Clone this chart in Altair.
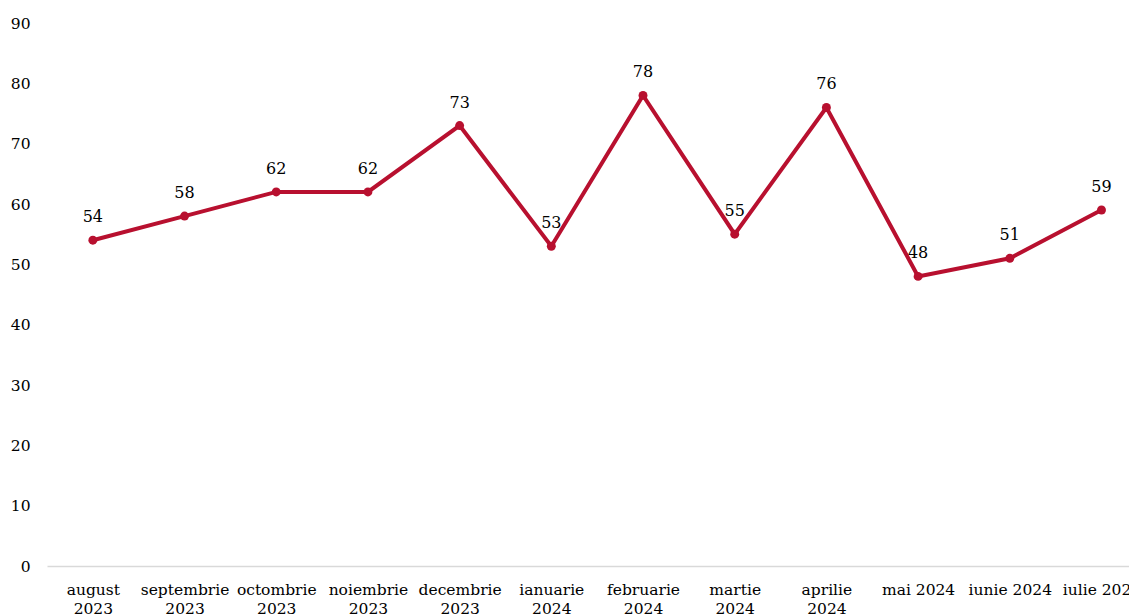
import altair as alt
import pandas as pd

months = ["august 2023", "septembrie 2023", "octombrie 2023", "noiembrie 2023",
          "decembrie 2023", "ianuarie 2024", "februarie 2024", "martie 2024",
          "aprilie 2024", "mai 2024", "iunie 2024", "iulie 2024"]
values = [54, 58, 62, 62, 73, 53, 78, 55, 76, 48, 51, 59]

df = pd.DataFrame({"idx": list(range(len(months))), "luna": months, "valoare": values})

FONT = "DejaVu Serif"
RED = "#b8102f"

month_arr = "[" + ",".join("'" + m + "'" for m in months) + "]"
label_expr = ("length({a}[datum.value]) > 10 ? split({a}[datum.value], ' ') : {a}[datum.value]"
              .format(a=month_arr))

x = alt.X("idx:Q", title=None,
          scale=alt.Scale(domain=[-0.5, 11.3], nice=False, zero=False),
          axis=alt.Axis(values=list(range(len(months))), labelExpr=label_expr,
                        labelAngle=0, labelFont=FONT, labelFontSize=15.5, labelColor="#000",
                        labelLineHeight=19, labelPadding=16, ticks=False, domain=True,
                        grid=False, labelFlush=False, labelOverlap=False,
                        domainColor="#d9d9d9", domainWidth=1.5, labelBaseline="top"))
y = alt.Y("valoare:Q", title=None,
          scale=alt.Scale(domain=[0, 90], nice=False),
          axis=alt.Axis(values=list(range(0, 100, 10)), labelFont=FONT, labelFontSize=15.5,
                        labelColor="#000", ticks=False, domain=False, grid=False,
                        labelPadding=17))

base = alt.Chart(df).encode(x=x, y=y)
line = base.mark_line(color=RED, strokeWidth=4)
pts = base.mark_point(color=RED, filled=True, opacity=1, size=80)
txt = base.mark_text(dy=-23, font=FONT, fontSize=16, color="#000").encode(text="valoare:Q")

chart = (line + pts + txt).properties(
    width=1082, height=543,
    autosize=alt.AutoSizeParams(type="none"),
    padding={"top": 15, "left": 39, "right": 0, "bottom": 48},
).configure_view(stroke=None)

chart.save("out.html", embed_options={"renderer": "svg", "actions": False})
